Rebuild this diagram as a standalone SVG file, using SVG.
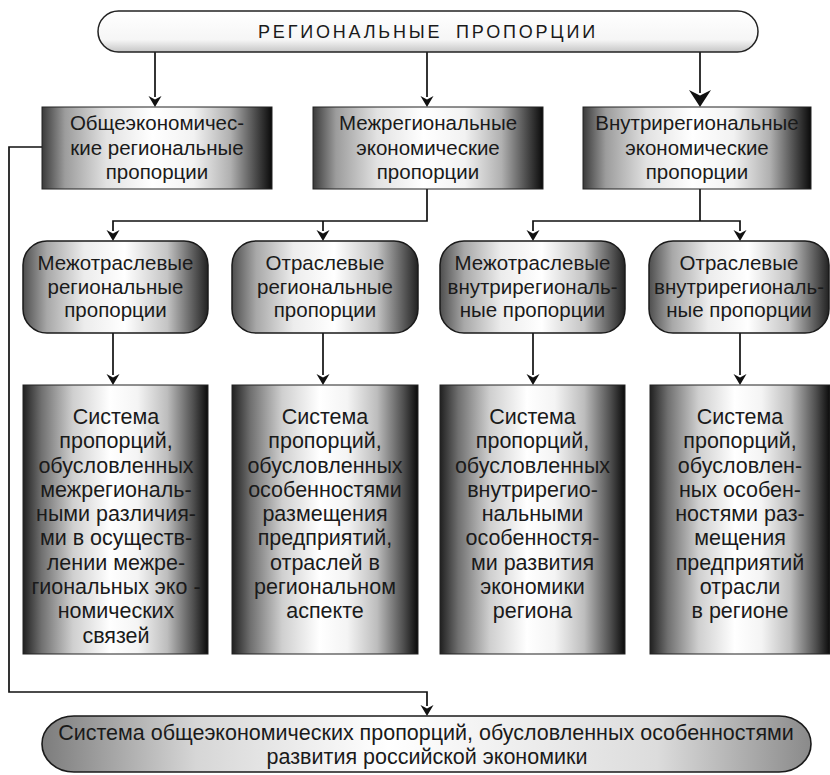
<svg xmlns="http://www.w3.org/2000/svg" width="830" height="775" viewBox="0 0 830 775">
<style>
text{font-family:"Liberation Sans",Arial,sans-serif;fill:#1a1a1a;text-anchor:middle}
.t{font-size:20.5px}
.s{font-size:21.5px}
.b{font-size:21.5px}
.ttl{font-size:18px;letter-spacing:2.8px;word-spacing:6px}
.rect{fill:url(#gRect);stroke:#222;stroke-width:1}
.rnd{fill:url(#gRnd);stroke:#1a1a1a;stroke-width:1.5}
.tall{fill:url(#gTall);stroke:#222;stroke-width:1}
.ln{fill:none;stroke:#111;stroke-width:1.7}
.ah{fill:#111}
</style>
<defs>
<linearGradient id="gRect" x1="0" y1="0" x2="1" y2="0">
<stop offset="0" stop-color="#3a3a3a"/><stop offset="0.1" stop-color="#9c9c9c"/><stop offset="0.28" stop-color="#e2e2e2"/><stop offset="0.48" stop-color="#ffffff"/><stop offset="0.66" stop-color="#f2f2f2"/><stop offset="0.82" stop-color="#b0b0b0"/><stop offset="0.93" stop-color="#4a4a4a"/><stop offset="1" stop-color="#0a0a0a"/>
</linearGradient>
<linearGradient id="gRnd" x1="0" y1="0" x2="1" y2="0">
<stop offset="0" stop-color="#4e4e4e"/><stop offset="0.13" stop-color="#a8a8a8"/><stop offset="0.33" stop-color="#ececec"/><stop offset="0.55" stop-color="#ffffff"/><stop offset="0.78" stop-color="#c4c4c4"/><stop offset="0.93" stop-color="#555555"/><stop offset="1" stop-color="#222222"/>
</linearGradient>
<linearGradient id="gTall" x1="0" y1="0" x2="1" y2="0">
<stop offset="0" stop-color="#202020"/><stop offset="0.1" stop-color="#707070"/><stop offset="0.27" stop-color="#cfcfcf"/><stop offset="0.47" stop-color="#ffffff"/><stop offset="0.62" stop-color="#f4f4f4"/><stop offset="0.78" stop-color="#bdbdbd"/><stop offset="0.92" stop-color="#505050"/><stop offset="1" stop-color="#0a0a0a"/>
</linearGradient>
<linearGradient id="gBot" x1="0" y1="0" x2="1" y2="0">
<stop offset="0" stop-color="#7c7c7c"/><stop offset="0.2" stop-color="#d6d6d6"/><stop offset="0.45" stop-color="#ffffff"/><stop offset="0.8" stop-color="#dcdcdc"/><stop offset="1" stop-color="#8a8a8a"/>
</linearGradient>
<linearGradient id="gPill" x1="0" y1="0" x2="0" y2="1">
<stop offset="0" stop-color="#ffffff"/><stop offset="0.7" stop-color="#f6f6f6"/><stop offset="1" stop-color="#c6c6c6"/>
</linearGradient>
</defs>

<g id="connectors">
<path class="ln" d="M155,52 V97"/>
<path class="ah" d="M155,107 L148.5,96 L155,99.5 L161.5,96 Z"/>
<path class="ln" d="M427,52 V97"/>
<path class="ah" d="M427,107 L420.5,96 L427,99.5 L433.5,96 Z"/>
<path class="ln" d="M700,52 V93"/>
<path class="ah" d="M700,107 L689,90 L700,95.5 L711,90 Z"/>

<path class="ln" d="M427,189 V221 H113 V231"/>
<path class="ah" d="M113,241 L106.5,230 L113,233.5 L119.5,230 Z"/>
<path class="ln" d="M323,221 V231"/>
<path class="ah" d="M323,241 L316.5,230 L323,233.5 L329.5,230 Z"/>
<path class="ln" d="M700,189 V221"/>
<path class="ln" d="M533,231 V221 H740 V231"/>
<path class="ah" d="M533,241 L526.5,230 L533,233.5 L539.5,230 Z"/>
<path class="ah" d="M740,241 L733.5,230 L740,233.5 L746.5,230 Z"/>

<path class="ln" d="M113,333 V375"/>
<path class="ah" d="M113,385 L106.5,374 L113,377.5 L119.5,374 Z"/>
<path class="ln" d="M323,333 V375"/>
<path class="ah" d="M323,385 L316.5,374 L323,377.5 L329.5,374 Z"/>
<path class="ln" d="M533,333 V375"/>
<path class="ah" d="M533,385 L526.5,374 L533,377.5 L539.5,374 Z"/>
<path class="ln" d="M740,333 V375"/>
<path class="ah" d="M740,385 L733.5,374 L740,377.5 L746.5,374 Z"/>

<path class="ln" d="M42,147 H9 V692 H427 V706"/>
<path class="ah" d="M427,716 L420.5,705 L427,708.5 L433.5,705 Z"/>
</g>

<g id="n-top">
<rect x="98" y="11" width="660" height="41" rx="20.5" fill="url(#gPill)" stroke="#222" stroke-width="1.5"/>
<text class="ttl" x="428" y="38">РЕГИОНАЛЬНЫЕ ПРОПОРЦИИ</text>
</g>

<g id="n-general">
<rect class="rect" x="42" y="107" width="230" height="82"/>
<text class="t" x="157" y="130">Общеэкономичес-</text>
<text class="t" x="157" y="155">кие региональные</text>
<text class="t" x="157" y="179">пропорции</text>
</g>
<g id="n-inter">
<rect class="rect" x="313" y="107" width="230" height="82"/>
<text class="t" x="428" y="130">Межрегиональные</text>
<text class="t" x="428" y="155">экономические</text>
<text class="t" x="428" y="179">пропорции</text>
</g>
<g id="n-intra">
<rect class="rect" x="583" y="107" width="228" height="82"/>
<text class="t" x="697" y="130">Внутрирегиональные</text>
<text class="t" x="697" y="155">экономические</text>
<text class="t" x="697" y="179">пропорции</text>
</g>

<g id="n-r1">
<rect class="rnd" x="23" y="241" width="185" height="92" rx="24"/>
<text class="t" x="115.5" y="270">Межотраслевые</text>
<text class="t" x="115.5" y="294">региональные</text>
<text class="t" x="115.5" y="317">пропорции</text>
</g>
<g id="n-r2">
<rect class="rnd" x="232" y="241" width="186" height="92" rx="24"/>
<text class="t" x="325" y="270">Отраслевые</text>
<text class="t" x="325" y="294">региональные</text>
<text class="t" x="325" y="317">пропорции</text>
</g>
<g id="n-r3">
<rect class="rnd" x="440" y="241" width="185" height="92" rx="24"/>
<text class="t" x="532.5" y="270">Межотраслевые</text>
<text class="t" x="532.5" y="294">внутрирегиональ-</text>
<text class="t" x="532.5" y="317">ные пропорции</text>
</g>
<g id="n-r4">
<rect class="rnd" x="649" y="241" width="180" height="92" rx="24"/>
<text class="t" x="739" y="270">Отраслевые</text>
<text class="t" x="739" y="294">внутрирегиональ-</text>
<text class="t" x="739" y="317">ные пропорции</text>
</g>

<g id="n-s1">
<rect class="tall" x="23" y="385" width="185" height="269"/>
<text class="s" x="116" y="424">Система</text>
<text class="s" x="116" y="448">пропорций,</text>
<text class="s" x="116" y="473">обусловленных</text>
<text class="s" x="116" y="497">межрегиональ-</text>
<text class="s" x="116" y="521">ными различия-</text>
<text class="s" x="116" y="545">ми в осуществ-</text>
<text class="s" x="116" y="570">лении межре-</text>
<text class="s" x="116" y="594">гиональных эко -</text>
<text class="s" x="116" y="618">номических</text>
<text class="s" x="116" y="643">связей</text>
</g>
<g id="n-s2">
<rect class="tall" x="232" y="385" width="186" height="269"/>
<text class="s" x="325" y="424">Система</text>
<text class="s" x="325" y="448">пропорций,</text>
<text class="s" x="325" y="473">обусловленных</text>
<text class="s" x="325" y="497">особенностями</text>
<text class="s" x="325" y="521">размещения</text>
<text class="s" x="325" y="545">предприятий,</text>
<text class="s" x="325" y="570">отраслей в</text>
<text class="s" x="325" y="594">региональном</text>
<text class="s" x="325" y="618">аспекте</text>
</g>
<g id="n-s3">
<rect class="tall" x="440" y="385" width="185" height="269"/>
<text class="s" x="532.5" y="424">Система</text>
<text class="s" x="532.5" y="448">пропорций,</text>
<text class="s" x="532.5" y="473">обусловленных</text>
<text class="s" x="532.5" y="497">внутрирегио-</text>
<text class="s" x="532.5" y="521">нальными</text>
<text class="s" x="532.5" y="545">особенностя-</text>
<text class="s" x="532.5" y="570">ми развития</text>
<text class="s" x="532.5" y="594">экономики</text>
<text class="s" x="532.5" y="618">региона</text>
</g>
<g id="n-s4">
<rect class="tall" x="650" y="385" width="180" height="269"/>
<text class="s" x="740" y="424">Система</text>
<text class="s" x="740" y="448">пропорций,</text>
<text class="s" x="740" y="473">обусловлен-</text>
<text class="s" x="740" y="497">ных особен-</text>
<text class="s" x="740" y="521">ностями раз-</text>
<text class="s" x="740" y="545">мещения</text>
<text class="s" x="740" y="570">предприятий</text>
<text class="s" x="740" y="594">отрасли</text>
<text class="s" x="740" y="618">в регионе</text>
</g>

<g id="n-bottom">
<rect x="42" y="716" width="769" height="56" rx="32" ry="28" fill="url(#gBot)" stroke="#1a1a1a" stroke-width="1.6"/>
<text class="b" x="426" y="740">Система общеэкономических пропорций, обусловленных особенностями</text>
<text class="b" x="427" y="764">развития российской экономики</text>
</g>
</svg>
